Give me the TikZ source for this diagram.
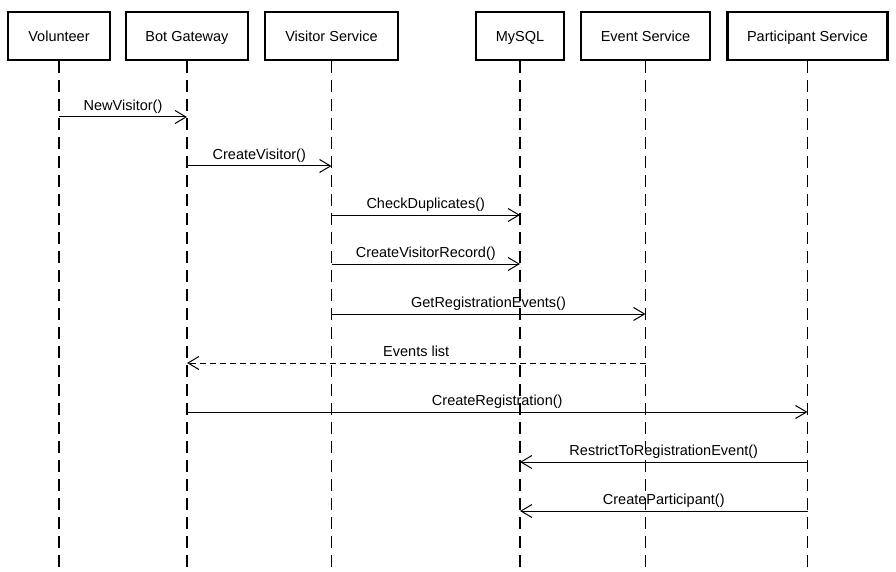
\documentclass[tikz,border=0pt]{standalone}
\usepackage{fontspec}
\setmainfont{Liberation Sans}
\usetikzlibrary{arrows.meta}

\tikzset{
    actor/.style={draw, line width=2.5pt, minimum height=48pt, inner sep=0pt,
        text height=10.5pt, text depth=0pt, font=\fontsize{14.5}{16}\selectfont},
    lifeline/.style={line width=1.7pt, dash pattern=on 12pt off 7pt},
    msg/.style={line width=1pt, -{Straight Barb[length=11pt,width=13pt,line width=1pt]}},
    reply/.style={msg, dash pattern=on 6pt off 4pt},
    msglabel/.style={above, inner sep=3pt, text height=10.5pt, text depth=3pt,
        font=\fontsize{14.5}{16}\selectfont}
}

\begin{document}
\begin{tikzpicture}[x=1pt, y=-1pt]
    \useasboundingbox (0,0) rectangle (896,572);

    % Participants along the top
    \node[actor, minimum width=102pt] (vol) at (59,36) {Volunteer};
    \node[actor, minimum width=122pt] (bot) at (187,36) {Bot Gateway};
    \node[actor, minimum width=133pt] (vis) at (331.5,36) {Visitor Service};
    \node[actor, minimum width=88pt]  (db)  at (520,36) {MySQL};
    \node[actor, minimum width=129pt] (evt) at (645.5,36) {Event Service};
    \node[actor, minimum width=160pt] (par) at (807.5,36) {Participant Service};

    % Lifelines down to the bottom edge
    \coordinate (bottom) at (0,572);
    \foreach \who in {vol, bot, vis, db, evt, par} {
        \draw[lifeline] (\who.south) -- (\who.south |- bottom);
    }

    % Message rows
    \foreach \row/\y in {1/117, 2/166, 3/215, 4/264, 5/314, 6/363, 7/412, 8/462, 9/511} {
        \coordinate (r\row) at (0,\y);
    }

    % Calls
    \foreach \row/\from/\to/\txt in {
        1/vol/bot/NewVisitor(),
        2/bot/vis/CreateVisitor(),
        3/vis/db/CheckDuplicates(),
        4/vis/db/CreateVisitorRecord(),
        5/vis/evt/GetRegistrationEvents(),
        7/bot/par/CreateRegistration(),
        8/par/db/RestrictToRegistrationEvent(),
        9/par/db/CreateParticipant()} {
        \draw[msg] (\from |- r\row) -- node[msglabel] {\txt} (\to |- r\row);
    }

    % Reply
    \draw[reply] (evt |- r6) -- node[msglabel] {Events list} (bot |- r6);
\end{tikzpicture}
\end{document}
